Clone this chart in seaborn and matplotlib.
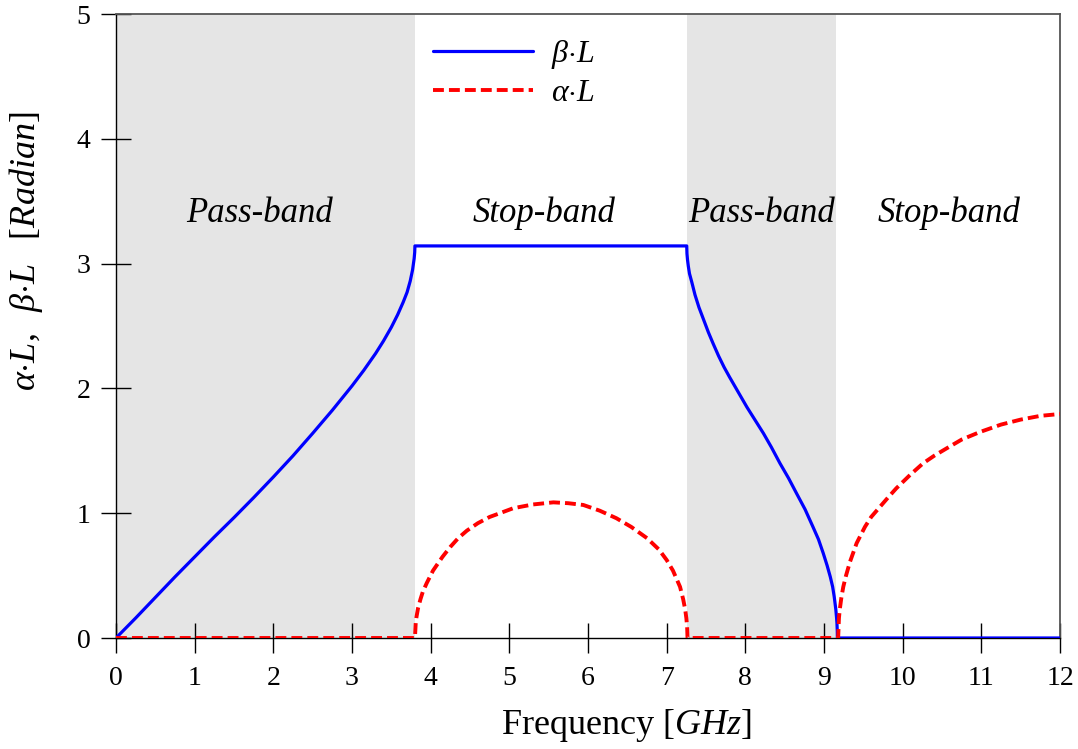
import numpy as np
import pandas as pd
import matplotlib
matplotlib.use("Agg")
import matplotlib.pyplot as plt
import seaborn as sns

# ---- data ----
beta_freq = [0, 0.25, 0.5, 0.75, 1.0, 1.25, 1.5, 1.75, 2.0, 2.25, 2.5, 2.75, 3.0,
             3.15, 3.3, 3.4, 3.5, 3.58, 3.65, 3.70, 3.74, 3.77, 3.79, 3.797, 3.80,
             7.255, 7.258, 7.265, 7.275, 7.29, 7.32, 7.36, 7.41, 7.47, 7.53, 7.59,
             7.66, 7.73, 7.80, 7.91, 8.02, 8.12, 8.23, 8.33, 8.44, 8.55, 8.65, 8.76,
             8.86, 8.93, 8.99, 9.04, 9.08, 9.11, 9.13, 9.15, 9.16, 9.165, 9.169,
             9.17, 12.0]
beta_val = [0, 0.16, 0.325, 0.49, 0.65, 0.81, 0.965, 1.125, 1.29, 1.46, 1.64, 1.825, 2.02,
            2.145, 2.28, 2.38, 2.49, 2.59, 2.69, 2.77, 2.86, 2.95, 3.04, 3.09, 3.1416,
            3.1416, 3.08, 3.03, 2.98, 2.92, 2.85, 2.75, 2.65, 2.55, 2.45, 2.36,
            2.26, 2.17, 2.09, 1.97, 1.85, 1.75, 1.64, 1.53, 1.40, 1.28, 1.16, 1.03,
            0.89, 0.79, 0.68, 0.58, 0.49, 0.41, 0.33, 0.23, 0.16, 0.115, 0.05,
            0, 0]

alpha_freq = [0, 3.80, 3.81, 3.82, 3.84, 3.87, 3.90, 3.95, 4.03, 4.15, 4.25, 4.35,
              4.46, 4.60, 4.75, 4.88, 5.05, 5.30, 5.56, 5.75, 5.94, 6.15, 6.36,
              6.55, 6.75, 6.90, 7.00, 7.08, 7.17, 7.21, 7.235, 7.25, 7.26, 7.265,
              9.18, 9.19, 9.20, 9.22, 9.245, 9.28, 9.33, 9.415, 9.52, 9.60, 9.71,
              9.82, 9.92, 10.10, 10.26, 10.40, 10.56, 10.75, 10.98, 11.25, 11.5,
              11.75, 12.0]
alpha_val = [0, 0, 0.12, 0.17, 0.24, 0.31, 0.37, 0.44, 0.54, 0.65, 0.73, 0.80,
             0.86, 0.92, 0.97, 1.00, 1.04, 1.07, 1.087, 1.08, 1.066, 1.02, 0.96,
             0.89, 0.80, 0.71, 0.625, 0.54, 0.41, 0.31, 0.23, 0.16, 0.09, 0,
             0, 0.16, 0.226, 0.32, 0.41, 0.50, 0.61, 0.76, 0.89, 0.97, 1.05,
             1.13, 1.20, 1.31, 1.40, 1.46, 1.52, 1.59, 1.65, 1.71, 1.75,
             1.78, 1.795]

pass_bands = [(0.0, 3.80), (7.255, 9.15)]
band_labels = ["Pass-band", "Stop-band", "Pass-band", "Stop-band"]
band_label_x = [1.83, 5.44, 8.21, 10.59]
band_label_y = 3.40

x_ticks = list(range(0, 13))
y_ticks = [0, 1, 2, 3, 4, 5]

# ---- style ----
sns.set_theme(style="white")
plt.rcParams["font.family"] = ["Liberation Serif", "DejaVu Serif"]
plt.rcParams["mathtext.fontset"] = "custom"
plt.rcParams["mathtext.rm"] = "Liberation Serif"
plt.rcParams["mathtext.it"] = "Liberation Serif:italic"
plt.rcParams["mathtext.bf"] = "Liberation Serif:bold"
for k in ["text.color", "axes.labelcolor", "xtick.color", "ytick.color"]:
    plt.rcParams[k] = "black"

fig = plt.figure(figsize=(10.78, 7.49), dpi=100)
ax = fig.add_axes([116 / 1078, 1 - 638 / 749, (1060 - 116) / 1078, (638 - 14) / 749])

for a, b in pass_bands:
    ax.axvspan(a, b, color="#e5e5e5", lw=0, zorder=0)

df_b = pd.DataFrame({"f": beta_freq, "v": beta_val})
df_a = pd.DataFrame({"f": alpha_freq, "v": alpha_val})

sns.lineplot(data=df_b, x="f", y="v", ax=ax, color="#0000ff", lw=2.3,
             sort=False, estimator=None, label=r"$\beta{\cdot}L$", zorder=3)
sns.lineplot(data=df_a, x="f", y="v", ax=ax, color="#ff0000", lw=2.8,
             sort=False, estimator=None, label=r"$\alpha{\cdot}L$", zorder=4)
ax.lines[1].set_linestyle((0, (2.8, 1.3)))

for t, xx in zip(band_labels, band_label_x):
    ax.text(xx, band_label_y, t, ha="center", va="center", fontsize=25,
            style="italic", color="black", zorder=5)

ax.set_xlim(0, 12)
ax.set_ylim(0, 5)
ax.set_xticks(x_ticks)
ax.set_yticks(y_ticks)
ax.tick_params(bottom=True, left=True, top=False, right=False,
               direction="inout", length=21, width=1.0, colors="black",
               labelsize=20)
ax.tick_params(axis="x", pad=10)
ax.tick_params(axis="y", pad=8)

for s in ["left", "bottom"]:
    ax.spines[s].set_color("black")
    ax.spines[s].set_linewidth(1.0)
for s in ["top", "right"]:
    ax.spines[s].set_color("#555555")
    ax.spines[s].set_linewidth(1.3)

ax.set_xlabel(r"$\mathrm{Frequency}\ [GHz]$", fontsize=26)
ax.set_ylabel(r"$\alpha{\cdot}L,\;\ \beta{\cdot}L\ \;\ [Radian]$", fontsize=26)
ax.xaxis.set_label_coords(0.541, -0.11)
ax.yaxis.set_label_coords(-0.075, 0.62)

leg = ax.legend(loc="upper left", bbox_to_anchor=(0.336, 0.962), frameon=False,
                fontsize=23, handlelength=3.13, handletextpad=0.55,
                labelspacing=0.25, borderpad=0, borderaxespad=0)

fig.savefig("out.png", dpi=100)
